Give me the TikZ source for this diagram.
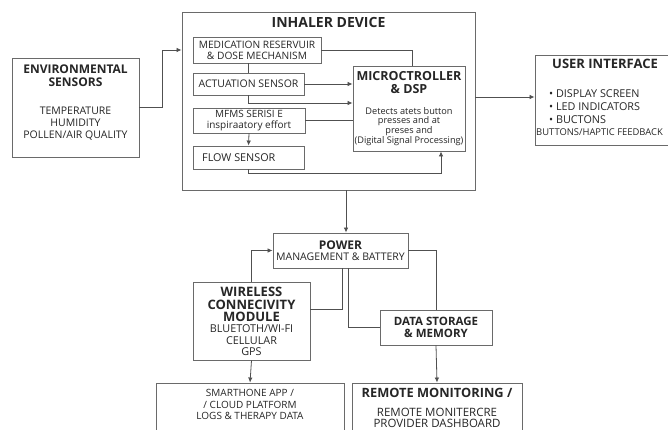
\documentclass[tikz,border=0pt]{standalone}
\usepackage{fontspec}
\setmainfont{Open Sans}
\usetikzlibrary{arrows.meta}
\definecolor{linec}{HTML}{505050}
\definecolor{boxc}{HTML}{6A6A6A}
\definecolor{txtc}{HTML}{262626}
\newcommand{\fs}[2]{\fontsize{#1}{#2}\selectfont}
\tikzset{
  box/.style={draw=boxc, line width=0.9pt, rectangle, inner sep=0pt, text=txtc, align=center},
  txt/.style={text=txtc, inner sep=0pt, align=center, font=\fs{10.5}{12}},
  ttl/.style={text=txtc, inner sep=0pt, align=center, font=\fs{12.5}{13}\bfseries},
  conn/.style={draw=linec, line width=0.8pt},
  arr/.style={conn, -{Latex[length=5pt,width=4.5pt]}},
}
\begin{document}
\begin{tikzpicture}[x=1pt,y=-1pt]
\clip (0,0) rectangle (668,430);
\fill[white] (0,0) rectangle (668,430);
% boxes
\node[box, minimum width=127pt, minimum height=99pt] (env) at (75.5,107.5) {};
\node[box, minimum width=293pt, minimum height=178pt] (inh) at (328.5,101) {};
\node[box, minimum width=128pt, minimum height=26pt, font=\fs{10.2}{11}] (med) at (257,50) {MEDICATION RESERVUIR\\\& DOSE MECHANISM};
\node[box, minimum width=111pt, minimum height=22pt, font=\fs{10.5}{11}] (act) at (248.5,84) {ACTUATION SENSOR};
\node[box, minimum width=112pt, minimum height=25pt, font=\fs{10}{11}] (mfms) at (249,120.5) {MFMS SERISI E\\inspiraatory effort};
\node[box, minimum width=111pt, minimum height=23pt] (flow) at (248.5,157.5) {};
\node[box, minimum width=112pt, minimum height=85pt] (mcu) at (409,108.5) {};
\node[box, minimum width=165pt, minimum height=90pt] (ui) at (617.5,100) {};
\node[box, minimum width=135pt, minimum height=35pt] (pow) at (340.5,250.5) {};
\node[box, minimum width=117pt, minimum height=78pt] (wir) at (251.5,321) {};
\node[box, minimum width=112pt, minimum height=35pt, font=\fs{11.5}{11.5}\bfseries] (dat) at (436,327.5) {DATA STORAGE\\\& MEMORY};
\node[box, minimum width=170pt, minimum height=57pt] (rem) at (437,411.5) {};
\node[box, minimum width=188pt, minimum height=57pt] (app) at (250,411.5) {};
% texts
\node[ttl, font=\fs{12}{13}\bfseries] (envt) at (75.5,75.5) {ENVIRONMENTAL\\SENSORS};
\node[txt] (envi) at (75.5,124) {TEMPERATURE\\HUMIDITY\\POLLEN/AIR QUALITY};
\node[ttl, font=\fs{14}{15}\bfseries] (inht) at (328.5,23) {INHALER DEVICE};
\node[txt, anchor=west, font=\fs{10.8}{12}] (flowt) at (202,157.5) {FLOW SENSOR};
\node[ttl] (mcut) at (409,82.5) {MICROCTROLLER\\\& DSP};
\node[txt, font=\fs{9.2}{9.8}] (mcub) at (409,126.5) {Detects atets button\\presses and at\\preses and\\(Digital Signal Processing)};
\node[ttl, font=\fs{13}{14}\bfseries] (uit) at (605,64) {USER INTERFACE};
\node[txt, anchor=west, align=left, font=\fs{10.8}{13}] (uib) at (549,107) {• DISPLAY SCREEN\\• LED INDICATORS\\• BUCTONS};
\node[txt, anchor=west, font=\fs{9.4}{12}] (uil) at (536,132) {BUTTONS/HAPTIC FEEDBACK};
\node[txt, font=\fs{10.5}{11}] (powt) at (340.5,250.5) {\fs{12}{11}\bfseries POWER\\MANAGEMENT \& BATTERY};
\node[ttl, font=\fs{13}{12.5}\bfseries] (wirt) at (251.5,304.5) {WIRELESS\\CONNECIVITY\\MODULE};
\node[txt, font=\fs{10.8}{11.5}] (wiri) at (251.5,340.5) {BLUETOTH/WI-FI\\CELLULAR\\GPS};
\node[txt, font=\fs{10}{11.5}] (appt) at (250,404.5) {SMARTHONE APP /\\/ CLOUD PLATFORM\\LOGS \& THERAPY DATA};
\node[ttl, font=\fs{12.8}{13}\bfseries] (remt) at (437,393) {REMOTE MONITORING /};
\node[txt, font=\fs{11.5}{11}] (remi) at (437,417.5) {REMOTE MONITERCRE\\PROVIDER DASHBOARD};
% connectors
\draw[arr] (env.east) -- ++(23,0) |- (inh.west |- 0,50);
\draw[conn] (med.east) -| ([xshift=3pt]mcu.north);
\draw[conn] (med.south -| act.north) -- (act.north);
\draw[arr] (act.east) -- (mcu.west |- act.east);
\draw[arr] (act.south) |- (mcu.west |- 0,103);
\draw[conn] (mfms.east) -- (mcu.west |- mfms.east);
\draw[arr] (mfms.south) -- (flow.north);
\draw[arr] (flow.south) -- ++(0,4) -| ([xshift=32pt]mcu.south);
\draw[arr] (inh.east |- 0,97) -- (ui.west |- 0,97);
\draw[arr] (inh.south -| 346,0) -- (pow.north -| 346,0);
\draw[arr] (wir.north) |- (pow.west);
\draw[conn] (wir.east |- 0,309) -| (pow.south -| 342,0);
\draw[conn] (pow.south -| 348,0) |- (dat.west);
\draw[conn] (pow.east) -| (dat.north);
\draw[arr] (dat.south) -- (rem.north);
\draw[arr] (wir.south) -- (app.north);
\end{tikzpicture}
\end{document}
